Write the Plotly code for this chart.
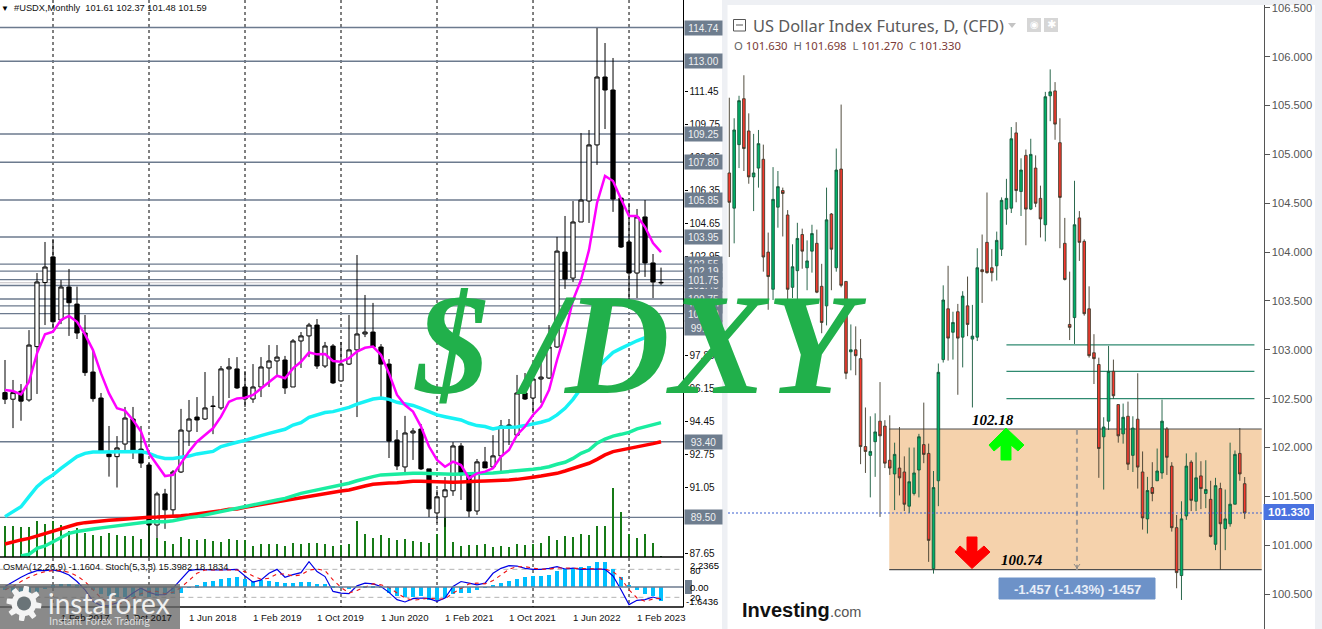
import math
import plotly.graph_objects as go

W, H = 1322, 629

# ---------- left chart: #USDX monthly ----------
usdx_open = [95.93,95.59,96.0,95.55,98.3,101.6,102.92,99.67,101.37,100.49,99.0,96.99,95.65,92.77,92.63,93.28,94.57,93.02,92.2,89.11,90.71,89.89,91.84,93.95,94.67,94.57,95.24,95.14,97.15,97.15,96.22,95.60,96.22,97.20,97.56,97.61,96.22,98.59,98.85,99.41,97.30,98.33,96.53,97.40,98.13,98.95,99.05,98.28,97.40,93.49,92.10,93.85,94.05,92.0,89.73,90.56,90.87,93.18,91.69,89.83,92.36,92.10,92.67,94.26,93.74,95.91,95.65,96.63,96.68,98.28,103.17,101.83,104.72,105.80,108.69,112.19,111.52,105.95,103.69,102.09,104.98,102.61,101.61]
usdx_high = [97.61,96.58,96.37,99.15,102.09,103.69,103.84,101.73,102.30,101.39,99.93,98.13,95.91,94.21,93.69,95.19,95.19,94.21,92.30,90.82,90.97,91.94,95.09,95.55,95.70,96.99,95.76,97.30,97.71,97.76,97.04,97.40,97.76,98.38,98.38,97.82,98.69,99.05,99.52,99.72,98.54,98.43,98.54,99.93,103.02,100.96,100.55,98.43,97.66,94.0,94.73,94.10,94.31,92.0,90.92,91.58,93.38,93.33,91.84,92.51,93.13,93.74,94.52,94.57,96.84,96.94,97.46,97.76,99.41,103.95,105.03,105.80,109.30,109.46,114.71,113.94,113.17,105.95,105.70,105.39,105.85,103.07,102.37]
usdx_low = [95.34,94.10,94.48,95.46,95.86,99.41,99.26,99.46,98.85,98.69,96.79,95.46,92.82,91.6,91.04,92.82,92.51,92.05,87.52,88.44,88.91,89.58,91.79,93.18,93.90,94.52,93.79,95.04,95.65,96.12,95.19,95.40,95.70,96.22,96.84,95.86,96.22,97.20,97.76,97.15,97.20,96.37,96.5,97.35,94.67,98.79,98.23,95.70,92.56,91.94,91.79,92.46,91.94,89.52,89.21,89.01,90.61,90.40,89.52,89.63,92.05,92.05,91.84,93.23,93.69,95.55,94.88,95.40,96.63,98.23,101.27,101.63,104.72,104.67,107.66,109.51,105.24,103.38,100.70,100.80,101.89,100.80,101.48]
usdx_close = [95.59,95.93,95.49,98.38,101.63,102.40,99.58,101.37,100.56,99.0,96.96,95.62,92.92,92.63,93.08,94.62,92.97,92.30,89.11,90.71,89.89,91.84,94.0,94.57,94.52,95.14,95.22,97.15,97.25,96.17,95.60,96.22,97.25,97.56,97.76,96.17,98.59,98.85,99.41,97.30,98.33,96.43,97.40,98.13,98.95,99.05,98.28,97.40,93.43,92.15,93.85,93.95,92.0,89.94,90.56,90.92,93.18,91.69,89.83,92.36,92.05,92.67,94.21,94.16,95.91,95.60,96.63,96.73,98.28,103.22,101.78,104.72,105.85,108.69,112.19,111.52,105.90,103.43,102.09,104.98,102.61,101.63,101.59]

ma_magenta = [96.06,96.01,95.84,96.49,97.95,98.93,99.07,99.67,99.88,99.58,98.93,98.12,96.92,95.89,95.12,95.0,94.52,93.92,92.80,92.20,91.63,91.69,92.29,92.89,93.40,93.75,94.09,94.69,95.46,95.63,95.67,95.81,96.15,96.49,96.80,96.67,97.18,97.52,98.0,97.90,97.92,97.56,97.52,97.70,98.04,98.24,98.30,97.87,96.92,95.81,95.29,94.95,94.18,93.15,92.46,92.11,92.37,92.20,91.51,91.77,91.86,92.03,92.63,92.97,93.75,94.18,94.78,95.21,96.06,97.61,98.98,100.70,101.73,103.28,105.70,107.09,106.83,105.90,105.03,105.03,104.46,103.64,103.17]
ma_cyan = [89.54,89.80,90.05,90.57,91.08,91.43,91.69,92.03,92.32,92.63,92.80,92.87,92.87,92.87,92.87,92.89,92.90,92.89,92.80,92.63,92.54,92.54,92.60,92.66,92.77,92.85,92.90,93.15,93.28,93.37,93.47,93.57,93.71,93.83,93.92,94.04,94.26,94.38,94.66,94.78,94.90,94.95,95.07,95.17,95.34,95.46,95.60,95.65,95.58,95.43,95.34,95.27,95.12,94.95,94.78,94.69,94.60,94.52,94.35,94.23,94.18,94.06,94.14,94.16,94.16,94.23,94.30,94.40,94.52,94.78,95.12,95.58,96.15,96.67,97.18,97.61,98.0,98.21,98.42,98.60,98.76,98.86,98.95]
ma_green = [None,None,87.51,87.60,87.91,88.03,88.25,88.47,88.68,88.77,88.85,88.90,88.96,89.02,89.08,89.14,89.20,89.25,89.28,89.28,89.28,89.33,89.42,89.49,89.54,89.63,89.71,89.80,89.88,89.97,90.05,90.14,90.26,90.35,90.40,90.48,90.62,90.74,90.83,90.91,91.0,91.08,91.14,91.26,91.39,91.51,91.60,91.69,91.72,91.74,91.75,91.77,91.77,91.75,91.72,91.72,91.72,91.74,91.74,91.75,91.77,91.79,91.82,91.86,91.89,91.94,91.98,92.03,92.11,92.24,92.34,92.54,92.80,92.97,93.32,93.54,93.69,93.78,93.88,94.06,94.18,94.26,94.38]
ma_red = [88.13,88.25,88.34,88.42,88.54,88.68,88.82,88.94,89.06,89.16,89.23,89.28,89.32,89.35,89.38,89.42,89.45,89.49,89.51,89.52,89.54,89.54,89.59,89.63,89.68,89.71,89.76,89.85,89.92,89.93,90.02,90.09,90.17,90.23,90.31,90.40,90.48,90.54,90.62,90.69,90.76,90.81,90.86,90.91,91.03,91.12,91.21,91.26,91.27,91.29,91.33,91.36,91.36,91.34,91.33,91.31,91.31,91.33,91.33,91.36,91.38,91.39,91.39,91.43,91.46,91.50,91.57,91.63,91.69,91.77,91.89,92.03,92.15,92.29,92.49,92.72,92.89,92.97,93.03,93.15,93.23,93.30,93.40]
volume = [31,31,30,30,36,33,36,32,26,29,24,22,21,24,22,21,21,18,33,19,16,13,20,18,17,18,16,15,18,17,17,11,13,13,13,11,14,13,14,14,13,11,12,13,36,23,19,22,19,17,18,16,15,14,23,39,15,11,12,12,13,10,11,10,13,12,13,14,21,17,21,20,23,22,31,31,69,45,23,19,23,14,1]
osma = [-.34,-.51,-.68,-.61,-.51,-.17,.17,.27,.27,.2,-.1,-.34,-.75,-.95,-1.02,-1.02,-1.02,-.95,-1.02,-.95,-.85,-.75,-.61,-.1,.2,.48,.58,.85,.92,1.02,.78,.61,.71,.61,.54,.44,.44,.54,.54,.34,.34,.1,-.03,-.14,0,.03,.03,-.1,-.61,-.92,-1.02,-.99,-.95,-1.36,-1.36,-1.09,-.75,-.58,-.61,-.34,-.1,.24,.44,.61,.82,1.02,1.12,1.12,1.22,1.63,1.87,1.97,2.04,2.11,2.55,2.59,1.87,1.02,.24,-.27,-.75,-.95,-1.46]
stoch_main = [43.3,53.9,63.1,71.5,77.2,77.2,78.6,75.1,68,53.9,36.2,11.5,2.4,3,8,16.5,29.2,39.8,30.6,25.6,25.6,39.8,57.4,77.2,80,78.6,78.6,78.6,78.6,80,65.9,52.5,57.4,71.5,80,63.1,68.7,73,96.3,75.1,64.5,32.7,29.2,27.8,44.7,50.4,48.9,43.3,30.6,15,10.1,17.2,18.6,17.2,11.5,18.6,43.3,53.9,50.4,46.8,50.4,71.5,82.1,87.8,87.1,82.1,80,80,82.1,85.7,80.7,82.8,80,80.7,80.7,80,65.9,36.2,4.5,13.6,15,20.7,15.4]
stoch_signal = [36.2,43.3,53.9,63.1,70.1,75.1,77.2,77.2,73.7,65.9,53.9,36.2,18.6,8,6.6,8,17.2,27.8,32.7,32.7,27.8,30.6,41.2,57.4,71.5,78.6,78.6,78.6,78.6,78.6,75.1,65.9,58.8,60.9,70.1,70.1,65.9,68,78.6,80.7,77.2,57.4,41.2,29.2,34.8,41.2,48.9,46.8,41.2,29.2,18.6,13.6,15,17.9,16.5,16.5,29.2,39.8,48.9,50.4,48.9,56,68,80,85.7,85.7,82.8,80,80.7,82.8,82.8,82.8,81.4,81.4,80.7,80.7,75.1,60.9,36.2,18.6,11.5,16.5,18.18]
month_index = list(range(len(usdx_open)))

price_levels = [102.55,101.45,114.74,113.00,109.25,107.80,105.85,103.95,102.19,101.75,100.75,100.40,100.00,99.25,93.40,89.50]
price_level_labels = ["102.55","101.45","114.74","113.00","109.25","107.80","105.85","103.95","102.19","101.75","100.75","100.40","100.00","99.25","93.40","89.50"]
left_ticks = [111.45,109.75,108.05,106.35,104.65,102.95,99.55,97.85,96.15,94.45,92.75,91.05,89.35,87.65]
year_lines = [6,18,30,42,54,66,78]
date_ticks = [-1,7,15,23,31,39,47,55,63,71,79]
date_labels = ["1 Jun 2016","1 Feb 2017","1 Oct 2017","1 Jun 2018","1 Feb 2019","1 Oct 2019","1 Jun 2020","1 Feb 2021","1 Oct 2021","1 Jun 2022","1 Feb 2023"]

# ---------- right chart: US Dollar Index Futures daily ----------
dxy_open = [104.81,104.45,105.10,105.57,105.24,104.77,104.86,104.95,104.0,103.62,104.46,104.63,104.38,103.64,103.81,104.18,103.84,104.01,104.09,103.65,103.45,104.39,103.84,104.85,103.70,102.98,103.0,102.91,102.01,101.92,102.06,102.27,102.22,101.87,101.73,101.79,101.75,101.40,101.53,101.77,102.03,101.94,100.76,101.66,102.90,103.42,103.18,103.39,103.13,103.45,103.11,103.13,103.82,104.10,103.84,103.86,104.03,104.44,104.45,105.22,104.62,104.99,104.44,104.86,104.55,104.28,105.60,105.65,105.12,104.09,103.26,103.33,104.35,104.11,103.42,102.97,102.85,102.11,102.27,102.78,102.44,102.14,102.32,101.92,102.29,101.75,101.27,101.59,101.66,101.74,102.19,101.81,101.18,100.69,101.30,101.85,101.45,101.71,101.53,101.47,101.01,101.58,101.17,101.22,101.42,101.94,101.63]
dxy_high = [105.58,105.37,105.60,105.81,105.42,105.21,105.25,105.10,104.20,104.87,104.83,104.66,104.43,104.08,104.30,104.24,104.12,104.28,104.23,103.88,104.66,104.40,105.06,105.51,103.70,103.26,103.24,103.11,102.41,102.32,102.35,102.67,102.28,102.33,102.05,102.21,101.91,102.0,102.0,102.14,102.46,102.04,101.76,102.86,103.66,103.86,103.39,103.47,103.60,103.75,103.46,104.04,104.18,104.61,104.03,104.21,104.56,104.75,105.28,105.33,104.96,105.05,105.16,104.99,104.68,105.64,105.87,105.74,105.37,104.35,103.80,104.73,104.42,104.13,103.65,103.16,102.92,102.31,103.04,102.90,102.44,102.45,102.47,102.32,102.76,101.96,101.70,101.85,101.99,102.49,102.21,101.85,101.31,101.45,101.94,101.87,101.95,101.86,101.87,101.66,101.69,101.64,101.57,102.05,101.97,102.20,101.698]
dxy_low = [103.95,104.09,104.86,104.83,104.70,104.42,104.66,103.80,103.41,103.51,104.25,104.16,103.49,103.53,103.49,103.83,103.61,103.79,103.58,103.17,103.25,103.61,103.80,103.64,102.70,102.79,102.74,101.83,101.74,101.49,101.70,101.29,101.79,101.72,101.36,101.51,101.35,101.33,101.51,101.49,101.84,100.83,100.71,101.40,102.87,102.89,102.90,102.54,102.82,103.14,102.41,103.09,103.48,103.78,103.70,103.71,103.96,104.28,104.40,104.51,104.37,104.07,104.43,104.46,104.15,104.11,105.34,105.15,104.04,103.71,103.10,103.06,103.91,103.35,102.92,102.65,101.69,101.57,102.18,102.50,102.05,102.04,101.77,101.75,101.58,101.16,101.12,101.45,101.66,101.68,101.72,101.14,100.56,100.44,101.26,101.35,101.35,101.37,101.38,101.08,100.95,100.75,100.95,101.19,101.42,101.66,101.27]
dxy_close = [104.51,105.25,105.55,105.06,104.77,104.81,105.11,103.95,103.75,104.54,104.67,104.60,103.62,103.85,104.14,104.01,103.91,104.19,103.59,103.28,104.33,104.03,104.84,103.66,102.76,103.0,102.94,102.01,101.96,101.96,102.16,102.12,101.84,101.79,101.93,101.69,101.42,101.65,101.74,102.11,101.93,101.05,101.59,102.77,103.51,103.12,103.28,103.12,103.55,103.26,103.14,103.84,103.80,103.79,103.79,104.12,104.53,104.55,105.16,104.63,104.84,104.44,105.0,104.50,104.34,105.59,105.64,105.31,104.56,103.72,103.23,104.28,104.10,103.37,102.94,102.91,101.99,102.21,102.78,102.53,102.12,102.31,101.83,102.20,101.80,101.28,101.56,101.53,101.76,102.27,101.90,101.18,100.72,101.27,101.81,101.46,101.69,101.58,101.57,101.09,101.61,101.22,101.27,101.42,101.93,101.73,101.33]
day_index = list(range(len(dxy_open)))

fib_levels = [103.05, 102.78, 102.50]
range_top, range_bottom = 102.19, 100.75
last_price = 101.33
right_ticks = [106.5,106.0,105.5,105.0,104.5,104.0,103.5,103.0,102.5,102.0,101.5,101.0,100.5]

for arr in (usdx_high, usdx_low, usdx_close, ma_magenta, ma_cyan, ma_green, ma_red, volume, osma, stoch_main, stoch_signal):
    assert len(arr) == len(usdx_open), len(arr)
for arr in (dxy_high, dxy_low, dxy_close):
    assert len(arr) == len(dxy_open), len(arr)


def px(x):
    return x / W


def py(y):
    return 1 - y / H


def poly(points):
    return "M" + " L".join(f"{px(a):.5f},{py(b):.5f}" for a, b in points) + " Z"


fig = go.Figure()

# volume bars on the base axis of the upper left pane
fig.add_trace(go.Bar(x=month_index, y=volume, xaxis="x", yaxis="y", marker=dict(color="#167a16", line_width=0), width=0.09))

fig.add_trace(go.Candlestick(
    x=month_index, open=usdx_open, high=usdx_high, low=usdx_low, close=usdx_close,
    xaxis="x", yaxis="y2", whiskerwidth=0,
    increasing=dict(line=dict(color="#000000", width=1), fillcolor="#ffffff"),
    decreasing=dict(line=dict(color="#000000", width=1), fillcolor="#000000"),
))
for name, vals, col, wid in [
    ("MA red", ma_red, "#ff0000", 3.5),
    ("MA green", ma_green, "#1aeda0", 3.5),
    ("MA cyan", ma_cyan, "#17f2f5", 3.5),
    ("MA magenta", ma_magenta, "#ff00ff", 2.5),
]:
    fig.add_trace(go.Scatter(x=month_index, y=vals, xaxis="x", yaxis="y2", mode="lines", name=name, line=dict(color=col, width=wid)))

fig.add_trace(go.Bar(x=month_index, y=osma, xaxis="x3", yaxis="y3", marker=dict(color="#00bfff", line_width=0), width=0.5))
fig.add_trace(go.Scatter(x=month_index, y=stoch_main, xaxis="x3", yaxis="y4", mode="lines", line=dict(color="#0000e6", width=1.2)))
fig.add_trace(go.Scatter(x=month_index, y=stoch_signal, xaxis="x3", yaxis="y4", mode="lines", line=dict(color="#f01010", width=1.1, dash="4px,4px")))

fig.add_trace(go.Candlestick(
    x=day_index, open=dxy_open, high=dxy_high, low=dxy_low, close=dxy_close,
    xaxis="x2", yaxis="y5", whiskerwidth=0,
    increasing=dict(line=dict(color="#14583a", width=0.9), fillcolor="#00b169"),
    decreasing=dict(line=dict(color="#3f3a2a", width=0.9), fillcolor="#f5392e"),
))

shapes = []
annots = []


def note(x, y, text, size=11, color="#000000", family="Liberation Sans", anchor="left", **kw):
    annots.append(dict(xref="paper", yref="paper", x=px(x), y=py(y), text=text, showarrow=False,
                       xanchor=anchor, yanchor="middle", font=dict(size=size, color=color, family=family),
                       borderpad=0, **kw))


# background bands
for x0, y0, x1, y1 in [(722, 0, 727.5, H), (727, 0, W, 5), (1315, 0, W, H)]:
    shapes.append(dict(type="rect", xref="paper", yref="paper", x0=px(x0), x1=px(x1), y0=py(y0), y1=py(y1),
                       fillcolor="#eef0f4", line_width=0, layer="below"))

# left pane: yearly separators
for v in year_lines:
    shapes.append(dict(type="line", xref="x", yref="paper", x0=v, x1=v, y0=py(0), y1=py(607),
                       line=dict(color="#000000", width=1, dash="3px,3px"), layer="below"))
# left pane: horizontal levels
for v in price_levels:
    shapes.append(dict(type="line", xref="x", yref="y2", x0=-0.7, x1=84.75, y0=v, y1=v,
                       line=dict(color="#6c7a8e", width=1.4), layer="below"))
shapes.append(dict(type="line", xref="x", yref="y2", x0=-0.7, x1=84.75, y0=usdx_close[-1], y1=usdx_close[-1],
                   line=dict(color="#c4c0c4", width=1), layer="below"))
# left pane frames
for y in (557, 607):
    shapes.append(dict(type="line", xref="paper", yref="paper", x0=0, x1=px(683.5), y0=py(y), y1=py(y),
                       line=dict(color="#000000", width=1.6)))
shapes.append(dict(type="line", xref="paper", yref="paper", x0=px(683.5), x1=px(683.5), y0=py(0), y1=py(607),
                   line=dict(color="#000000", width=1)))
# oscillator guides
shapes.append(dict(type="line", xref="x3", yref="y3", x0=-0.7, x1=84.75, y0=0, y1=0, line=dict(color="#6c7a8e", width=1.4)))
for v in (80, 20):
    shapes.append(dict(type="line", xref="x3", yref="y4", x0=-0.7, x1=84.75, y0=v, y1=v,
                       line=dict(color="#b4b4b4", width=1, dash="5px,4px"), layer="below"))

# right pane
shapes.append(dict(type="rect", xref="x2", yref="y5", x0=32.9, x1=109.5, y0=range_bottom, y1=range_top,
                   fillcolor="#f5d2ac", line_width=0, layer="below"))
for v in (range_top, range_bottom):
    shapes.append(dict(type="line", xref="x2", yref="y5", x0=32.9, x1=109.5, y0=v, y1=v,
                       line=dict(color="#4f4f4f", width=1.2), layer="below"))
for v in fib_levels:
    shapes.append(dict(type="line", xref="x2", yref="y5", x0=57.0, x1=108.0, y0=v, y1=v,
                       line=dict(color="#2f8a70", width=1.2), layer="below"))
shapes.append(dict(type="line", xref="x2", yref="y5", x0=71.5, x1=71.5, y0=range_bottom, y1=range_top,
                   line=dict(color="#a39c94", width=2, dash="5px,4px")))
shapes.append(dict(type="line", xref="paper", yref="y5", x0=px(728), x1=px(1263.5), y0=last_price, y1=last_price,
                   line=dict(color="#3a5fd0", width=1, dash="2px,2px")))
shapes.append(dict(type="path", xref="paper", yref="paper",
                   path=f"M{px(1074):.5f},{py(564):.5f} L{px(1077):.5f},{py(568):.5f} L{px(1080):.5f},{py(564):.5f}",
                   line=dict(color="#8f8a84", width=1)))
# arrows
shapes.append(dict(type="path", xref="paper", yref="paper", fillcolor="#00ff00", line=dict(color="#00ff00", width=1),
                   path=poly([(1006, 428), (1024, 445), (1018, 451), (1011, 445), (1011, 460), (1001, 460), (1001, 445), (994, 451), (989, 445)])))
shapes.append(dict(type="path", xref="paper", yref="paper", fillcolor="#ff0000", line=dict(color="#ff0000", width=1),
                   path=poly([(972, 568.5), (990, 552), (984, 546), (977, 552), (977, 537), (967, 537), (967, 552), (960, 546), (955, 552)])))
# blue boxes
shapes.append(dict(type="rect", xref="paper", yref="paper", x0=px(1263.5), x1=px(1314), y0=py(504), y1=py(520),
                   fillcolor="#4a72e0", line_width=0))
shapes.append(dict(type="rect", xref="paper", yref="paper", x0=px(999), x1=px(1155), y0=py(578), y1=py(599),
                   fillcolor="#6d92c8", line=dict(color="#6d92c8", width=1)))
# header icons on the right chart
shapes.append(dict(type="rect", xref="paper", yref="paper", x0=px(733.5), x1=px(745.5), y0=py(19.5), y1=py(31),
                   line=dict(color="#555555", width=1), fillcolor="rgba(0,0,0,0)"))
shapes.append(dict(type="line", xref="paper", yref="paper", x0=px(736), x1=px(743), y0=py(25), y1=py(25), line=dict(color="#555555", width=1)))
for x0 in (1027, 1044):
    shapes.append(dict(type="rect", xref="paper", yref="paper", x0=px(x0), x1=px(x0 + 14), y0=py(18), y1=py(32),
                       fillcolor="#d6d6d6", line_width=0))
shapes.append(dict(type="path", xref="paper", yref="paper", fillcolor="#c4c4c4", line_width=0,
                   path=poly([(1008, 23), (1016, 23), (1012, 28)])))

# logo plate, above the chart
shapes.append(dict(type="rect", xref="paper", yref="paper", x0=0, x1=px(180), y0=py(584), y1=py(629),
                   fillcolor="rgba(105,105,105,0.78)", line_width=0))
# logo gear
cx, cy = 24, 603.5
gear = []
for k in range(64):
    a = 2 * math.pi * k / 64
    r = 17.5 if (k % 8) in (0, 1, 2, 3) else 12.5
    gear.append((cx + r * math.cos(a), cy + r * math.sin(a)))
shapes.append(dict(type="path", xref="paper", yref="paper", fillcolor="#f4f4f4", line_width=0, path=poly(gear)))
hub = [(cx + 7 * math.cos(2 * math.pi * k / 24), cy + 7 * math.sin(2 * math.pi * k / 24)) for k in range(24)]
shapes.append(dict(type="path", xref="paper", yref="paper", fillcolor="#6a7478", line_width=0, path=poly(hub)))

# left pane texts
note(0, 8, "▼", size=8)
note(13, 8, "#USDX,Monthly&nbsp;&nbsp;101.61 102.37 101.48 101.59", size=9.3, color="#111111")
for v, t in zip(price_levels, price_level_labels):
    annots.append(dict(xref="paper", yref="y2", x=px(703.5), y=v, text=t, showarrow=False, xanchor="center", yanchor="middle",
                       font=dict(size=10, color="#eef0f2", family="Liberation Sans"), bgcolor="#6e7d8e",
                       width=35, height=12, borderpad=1))
note(2, 567, "OsMA(12,26,9) -1.1604&nbsp;&nbsp;Stoch(5,3,3) 15.3982 18.1834", size=9.3, color="#111111")
for t, v in zip(date_labels, date_ticks):
    annots.append(dict(xref="x3", yref="paper", x=v, y=py(617), text=t, showarrow=False, xanchor="left", yanchor="middle",
                       xshift=-2, font=dict(size=9.6, color="#111111", family="Liberation Sans")))
note(689, 565, "2.2365", size=9.5)
note(689, 570, "80", size=9.5)
note(689, 587, "0.00", size=9.5)
shapes.append(dict(type="rect", xref="paper", yref="paper", x0=px(685), x1=px(692), y0=py(580), y1=py(594), fillcolor="#6e7d8e", line_width=0, layer="below"))
note(689, 597, "20", size=9.5)
note(685, 601, "-1.6436", size=9.5)

# logo text
note(47, 603, "instaforex", size=28, color="#f0f0f0", family="Lato")
note(48, 620, "Instant Forex Trading", size=11, color="#dcdcdc", family="Lato")

# right pane texts
note(752, 26, "US Dollar Index Futures, D, (CFD)", size=16.4, color="#5a5a5a", family="Noto Sans")
note(733, 45, '<span style="color:#666">O</span> 101.630&nbsp;&nbsp;<span style="color:#666">H</span> 101.698&nbsp;&nbsp;'
              '<span style="color:#666">L</span> 101.270&nbsp;&nbsp;<span style="color:#666">C</span> 101.330',
     size=11.3, color="#7a3a36", family="Noto Sans")
note(1034, 25, "◉", size=10, color="#ffffff", anchor="center", family="DejaVu Sans")
note(1051, 25, "✱", size=11, color="#ffffff", anchor="center", family="DejaVu Sans")
note(1289, 512, "<b>101.330</b>", size=11.5, color="#ffffff", anchor="center")
note(1077, 589, "<b>-1.457 (-1.43%) -1457</b>", size=13, color="#e8eef8", anchor="center", family="Liberation Sans")
note(971, 420, "<b><i>102.18</i></b>", size=15, family="Liberation Serif")
note(1000, 560, "<b><i>100.74</i></b>", size=15, family="Liberation Serif")
note(741, 610, "<b>Investing</b>", size=20, color="#111111", family="Liberation Sans")
note(829, 612, ".com", size=14.5, color="#555555", family="Liberation Sans")

# large overlay title
note(413, 344, "<b><i>$ /DXY</i></b>", size=145, color="#21b04b", family="Liberation Serif")

axis_off = dict(visible=False, fixedrange=True, automargin=False)
fig.update_layout(
    width=W, height=H, autosize=False, showlegend=False, margin=dict(l=0, r=0, t=0, b=0),
    paper_bgcolor="#ffffff", plot_bgcolor="rgba(0,0,0,0)", bargap=0, boxgap=0.24,
    shapes=shapes, annotations=annots,
    xaxis=dict(domain=[0, px(683.5)], range=[-0.625, 84.81], anchor="y", rangeslider=dict(visible=False), **axis_off),
    yaxis=dict(domain=[py(557), 1], range=[0, 557], anchor="x", **axis_off),
    yaxis2=dict(domain=[py(557), 1], range=[87.46, 116.157], overlaying="y", anchor="x", side="right", automargin=False,
                tickmode="array", tickvals=left_ticks, ticktext=[f"{v:.2f}" for v in left_ticks],
                ticks="outside", ticklen=3, tickcolor="#000000", showgrid=False, zeroline=False,
                tickfont=dict(size=10, color="#111111", family="Liberation Sans")),
    xaxis3=dict(domain=[0, px(683.5)], range=[-0.625, 84.81], anchor="y3", rangeslider=dict(visible=False), **axis_off),
    yaxis3=dict(domain=[py(607), py(558)], range=[-2.04, 2.96], anchor="x3", **axis_off),
    yaxis4=dict(domain=[py(607), py(558)], range=[-0.7, 104.3], overlaying="y3", anchor="x3", **axis_off),
    xaxis2=dict(domain=[px(727), px(1263.5)], range=[-0.473, 109.87], anchor="y5", rangeslider=dict(visible=False), **axis_off),
    yaxis5=dict(domain=[0, py(5)], range=[100.143, 106.529], anchor="x2", side="right", automargin=False,
                tickmode="array", tickvals=right_ticks, ticktext=[f"{v:.3f}" for v in right_ticks],
                ticks="outside", ticklen=5, tickcolor="#555555", showline=True, linecolor="#555555", linewidth=1,
                showgrid=False, zeroline=False, tickfont=dict(size=11.2, color="#555555", family="Liberation Sans")),
)

fig.write_html("out.html", config={"displayModeBar": False},
               post_script="document.body.style.margin='0';document.body.style.overflow='hidden';")
